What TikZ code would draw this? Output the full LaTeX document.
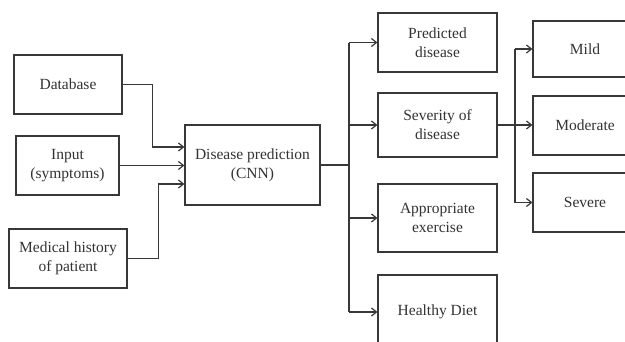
\documentclass[tikz,border=0pt]{standalone}
\usepackage{fontspec}
\setmainfont{Liberation Serif}
\usetikzlibrary{arrows.meta}
\definecolor{ln}{HTML}{383838}
\definecolor{tx}{HTML}{333333}
\begin{document}
\begin{tikzpicture}[x=1pt,y=-1pt,
  box/.style={draw=ln,line width=1.2pt,rectangle,inner sep=0pt,align=center,text=tx,
    font=\fontsize{15.5}{19}\selectfont},
  arr/.style={draw=ln,line width=1.2pt,-{Straight Barb[length=5pt,width=8pt,line width=1.2pt]}},
  ln/.style={draw=ln,line width=1.2pt}]
\useasboundingbox (0,0) rectangle (625,341);
\clip (0,0) rectangle (625,341);
\fill[white] (0,0) rectangle (625,341);
% left boxes
\node[box,minimum width=108pt,minimum height=59pt] (db) at (68,84.5) {Database};
\node[box,minimum width=103pt,minimum height=59pt] (inp) at (67.5,165.5) {Input\\(symptoms)};
\node[box,minimum width=118pt,minimum height=59pt] (med) at (68,258.5) {Medical history\\of patient};
% centre
\node[box,minimum width=135pt,minimum height=80pt] (cnn) at (252.5,165) {Disease prediction\\(CNN)};
% outputs
\node[box,minimum width=119pt,minimum height=59pt] (pred) at (437.5,42.5) {Predicted\\disease};
\node[box,minimum width=119pt,minimum height=64pt] (sev) at (437.5,125) {Severity of\\disease};
\node[box,minimum width=119pt,minimum height=68pt] (app) at (437.5,218) {Appropriate\\exercise};
\node[box,minimum width=119pt,minimum height=74pt] (hd) at (437.5,312) {Healthy Diet};
% severity levels
\node[box,minimum width=104pt,minimum height=56pt] (mild) at (585,49) {Mild};
\node[box,minimum width=104pt,minimum height=59pt] (mod) at (585,125.5) {Moderate};
\node[box,minimum width=104pt,minimum height=59pt] (sevr) at (585,202.5) {Severe};
% inputs to CNN
\draw[arr] (db.east) -| ([xshift=-32pt,yshift=18pt]cnn.west) -- ([yshift=18pt]cnn.west);
\draw[arr] (inp.east) -- (cnn.west |- inp.east);
\draw[arr] (med.east) -| ([xshift=-26pt,yshift=-19pt]cnn.west) -- ([yshift=-19pt]cnn.west);
% CNN to outputs
\coordinate (t) at (349,165);
\draw[ln] (cnn.east) -- (t);
\draw[ln] (t |- pred.west) -- (t |- hd.west);
\draw[arr] (t |- pred.west) -- (pred.west);
\draw[arr] (t |- sev.west) -- (sev.west);
\draw[arr] (t |- app.west) -- (app.west);
\draw[arr] (t |- hd.west) -- (hd.west);
% severity to levels
\coordinate (u) at (515,125);
\draw[arr] (sev.east) -- (mod.west |- sev.east);
\draw[ln] (u |- mild.west) -- (u |- sevr.west);
\draw[arr] (u |- mild.west) -- (mild.west);
\draw[arr] (u |- sevr.west) -- (sevr.west);
\end{tikzpicture}
\end{document}
